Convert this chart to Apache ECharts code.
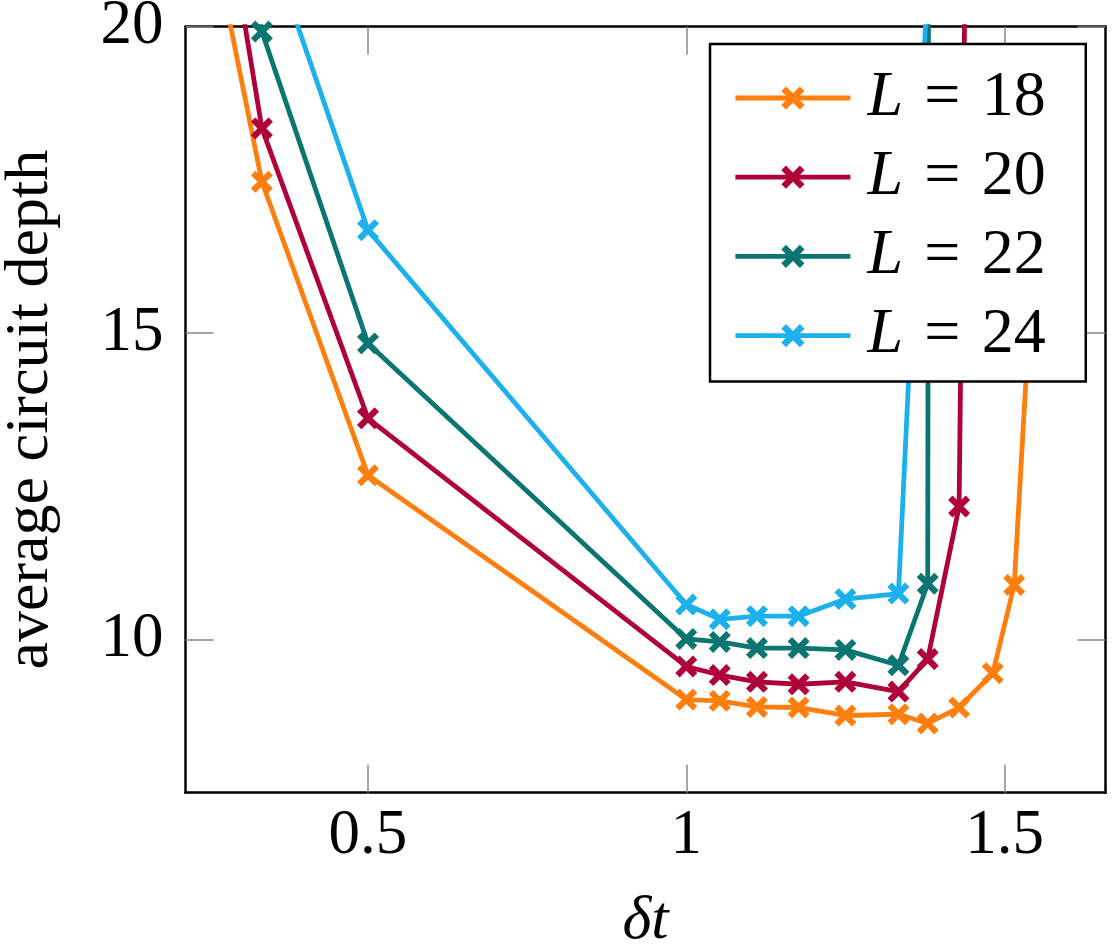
<!DOCTYPE html>
<html>
<head>
<meta charset="utf-8">
<title>average circuit depth vs dt</title>
<script src="https://cdn.jsdelivr.net/npm/echarts@6/dist/echarts.min.js"></script>
<style>
  html, body { margin: 0; padding: 0; background: #fff; }
  #chart { width: 1114px; height: 948px; }
</style>
</head>
<body>
<div id="chart"></div>
<script>
// time steps (dt) and depths
var dt18 = [0.25, 1/3, 0.5, 1.0, 1.0526, 1.1111, 1.1765, 1.25, 1.3333, 1.3793, 1.4286, 1.4815, 1.5152, 1.5385];
var depth18 = [21.77, 17.47, 12.68, 9.02, 9.00, 8.90, 8.89, 8.76, 8.78, 8.63, 8.89, 9.45, 10.89, 15.12];

var dt20 = [0.25, 1/3, 0.5, 1.0, 1.0526, 1.1111, 1.1765, 1.25, 1.3333, 1.3793, 1.4286, 1.4815];
var depth20 = [23.61, 18.34, 13.61, 9.56, 9.42, 9.31, 9.27, 9.31, 9.15, 9.68, 12.17, 61.0];

var dt22 = [0.25, 1/3, 0.5, 1.0, 1.0526, 1.1111, 1.1765, 1.25, 1.3333, 1.3793, 1.4286];
var depth22 = [25.5, 19.92, 14.83, 10.01, 9.96, 9.86, 9.86, 9.83, 9.58, 10.91, 400];

var dt24 = [1/3, 0.5, 1.0, 1.0526, 1.1111, 1.1765, 1.25, 1.3333, 1.3793];
var depth24 = [21.71, 16.68, 10.57, 10.33, 10.38, 10.38, 10.66, 10.75, 20.8];

var seriesNames = ['L = 18', 'L = 20', 'L = 22', 'L = 24'];
var colors = ['#ff7f0e', '#b0003a', '#0b7571', '#1cb1ec'];
var xTicks = [0.5, 1, 1.5];
var yTicks = [10, 15, 20];

var FONT = 'Liberation Serif';
var crossMark = 'path://M4,0L10,6L16,0L20,4L14,10L20,16L16,20L10,14L4,20L0,16L6,10L0,4Z';

function pairs(xs, ys) {
    return xs.map(function (x, i) { return [x, ys[i]]; });
}

var allX = [dt18, dt20, dt22, dt24];
var allY = [depth18, depth20, depth22, depth24];

var series = seriesNames.map(function (name, k) {
    return {
        name: name,
        type: 'line',
        data: pairs(allX[k], allY[k]),
        symbol: crossMark,
        symbolSize: 22,
        showSymbol: true,
        clip: true,
        lineStyle: { color: colors[k], width: 4.8 },
        itemStyle: { color: colors[k], borderWidth: 0 },
        emphasis: { disabled: true },
        animation: false
    };
});

var tickStyle = { show: true, inside: true, length: 28, lineStyle: { color: '#888', width: 1.5 } };
var lineStyleBox = { show: true, lineStyle: { color: '#000', width: 2.5 } };

var myChart = echarts.init(document.getElementById('chart'));
var option = {
    backgroundColor: '#fff',
    animation: false,
    grid: { left: 185.5, right: 8.5, top: 26.7, bottom: 155.3, outerBoundsMode: 'none', containLabel: false },
    legend: {
        orient: 'vertical',
        left: 710,
        top: 44,
        backgroundColor: '#fff',
        borderColor: '#000',
        borderWidth: 2.5,
        borderRadius: 0,
        padding: [22, 40, 14, 23],
        itemWidth: 115,
        itemHeight: 29,
        itemGap: 15.2,
        data: seriesNames,
        lineStyle: { width: 4.8 },
        formatter: function (n) { return '{it|L}\u2004=\u2004' + n.slice(4); },
        textStyle: {
            fontFamily: FONT, fontSize: 64, color: '#000', lineHeight: 60,
            padding: [0, 0, 0, 12],
            rich: { it: { fontFamily: FONT, fontSize: 64, fontStyle: 'italic', color: '#000' } }
        }
    },
    xAxis: [{
        type: 'value',
        min: 0.2133,
        max: 1.6586,
        position: 'bottom',
        name: 'δt',
        nameLocation: 'middle',
        nameGap: 98,
        nameTextStyle: { fontFamily: FONT, fontSize: 62, fontStyle: 'italic', color: '#000' },
        axisLine: lineStyleBox,
        axisTick: Object.assign({ customValues: xTicks }, tickStyle),
        axisLabel: {
            customValues: xTicks, margin: 12,
            fontFamily: FONT, fontSize: 63, color: '#000',
            formatter: function (v) { return String(v); }
        },
        splitLine: { show: false }
    }, {
        type: 'value',
        min: 0.2133,
        max: 1.6586,
        position: 'top',
        axisLine: lineStyleBox,
        axisTick: Object.assign({ customValues: xTicks }, tickStyle),
        axisLabel: { show: false },
        splitLine: { show: false }
    }],
    yAxis: [{
        type: 'value',
        min: 7.5,
        max: 20,
        position: 'left',
        name: 'average circuit depth',
        nameLocation: 'middle',
        nameRotate: 90,
        nameGap: 124,
        nameTextStyle: { fontFamily: FONT, fontSize: 62, color: '#000' },
        axisLine: lineStyleBox,
        axisTick: Object.assign({ customValues: yTicks }, tickStyle),
        axisLabel: {
            customValues: yTicks, margin: 22,
            fontFamily: FONT, fontSize: 63, color: '#000'
        },
        splitLine: { show: false }
    }, {
        type: 'value',
        min: 7.5,
        max: 20,
        position: 'right',
        axisLine: lineStyleBox,
        axisTick: Object.assign({ customValues: yTicks }, tickStyle),
        axisLabel: { show: false },
        splitLine: { show: false }
    }],
    series: series
};
myChart.setOption(option);
</script>
</body>
</html>
